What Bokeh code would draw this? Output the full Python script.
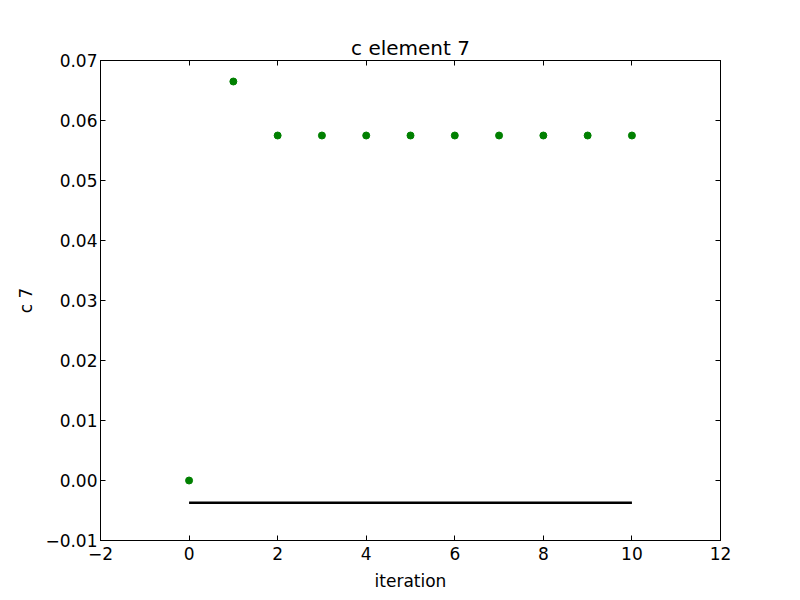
from bokeh.plotting import figure
from bokeh.models import LinearAxis, FixedTicker, Range1d
from bokeh.embed import file_html
from bokeh.resources import INLINE

iterations = [0, 1, 2, 3, 4, 5, 6, 7, 8, 9, 10]
c7_values = [0.0, 0.0665, 0.0575, 0.0575, 0.0575, 0.0575, 0.0575, 0.0575, 0.0575, 0.0575, 0.0575]
ref_x = [0, 10]
ref_y = [-0.0037, -0.0037]

x_ticks = [-2, 0, 2, 4, 6, 8, 10, 12]
x_tick_labels = ["\u22122", "0", "2", "4", "6", "8", "10", "12"]
y_ticks = [-0.01, 0.0, 0.01, 0.02, 0.03, 0.04, 0.05, 0.06, 0.07]
y_tick_labels = ["\u22120.01", "0.00", "0.01", "0.02", "0.03", "0.04", "0.05", "0.06", "0.07"]

FONT = "DejaVu Sans"

p = figure(frame_width=620, frame_height=480, output_backend="svg", toolbar_location=None,
           x_range=Range1d(-2, 12), y_range=Range1d(-0.01, 0.07),
           min_border_left=100, min_border_right=70, min_border_top=60, min_border_bottom=52,
           title="c element 7")
p.title.align = "center"
p.title.text_font = FONT
p.title.text_font_size = "20px"
p.title.text_font_style = "normal"
p.title.text_color = "black"
p.title.offset = 0
p.title.standoff = 2

p.xgrid.visible = False
p.ygrid.visible = False
p.outline_line_color = "black"
p.outline_line_width = 1
p.outline_line_alpha = 1

p.line(ref_x, ref_y, line_color="black", line_width=2.5)
p.scatter(iterations, c7_values, size=7, fill_color="#008000", line_color="#008000")

def style(ax):
    ax.axis_line_color = "black"
    ax.major_tick_in = 5
    ax.major_tick_out = 0
    ax.minor_tick_in = 0
    ax.minor_tick_out = 0
    ax.major_tick_line_color = "black"
    ax.major_label_text_font = FONT
    ax.major_label_text_font_size = "17px"
    ax.major_label_text_color = "black"
    ax.axis_label_text_font = FONT
    ax.axis_label_text_font_size = "17px"
    ax.axis_label_text_font_style = "normal"
    ax.axis_label_text_color = "black"

xa = p.xaxis[0]
xa.ticker = FixedTicker(ticks=x_ticks)
xa.major_label_overrides = {t: l for t, l in zip(x_ticks, x_tick_labels)}
xa.axis_label = "iteration"
xa.major_label_standoff = 6
xa.axis_label_standoff = 8
style(xa)

ya = p.yaxis[0]
ya.ticker = FixedTicker(ticks=y_ticks)
ya.major_label_overrides = {t: l for t, l in zip(y_ticks, y_tick_labels)}
ya.axis_label = "c 7"
ya.major_label_standoff = 3
ya.axis_label_standoff = 6
style(ya)

top = LinearAxis(ticker=FixedTicker(ticks=x_ticks))
style(top)
top.major_label_overrides = {t: "" for t in x_ticks}
top.major_label_standoff = 0
p.add_layout(top, "above")
right = LinearAxis(ticker=FixedTicker(ticks=y_ticks))
style(right)
right.major_label_overrides = {t: "" for t in y_ticks}
right.major_label_standoff = 0
p.add_layout(right, "right")

open("out.html", "w").write(file_html(p, INLINE))
